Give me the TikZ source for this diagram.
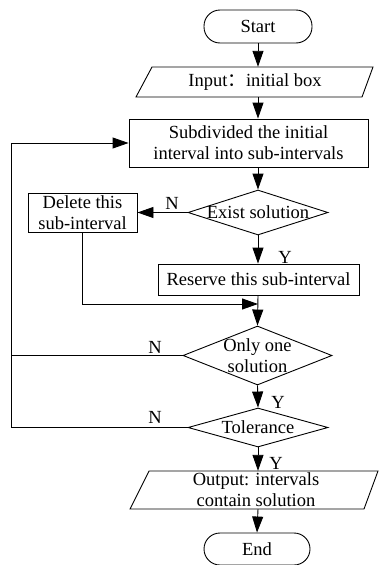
\documentclass[tikz,border=0pt]{standalone}
\usepackage{fontspec}
\setmainfont{Liberation Serif}
\newfontfamily\cjk{Noto Sans CJK SC}
\usetikzlibrary{shapes.geometric,arrows.meta}
\begin{document}
\begin{tikzpicture}[x=1pt,y=-1pt,
  every node/.style={font=\fontsize{18.5}{21}\selectfont, inner sep=0pt, align=center},
  line/.style={line width=0.9pt, line join=miter},
  arr/.style={line, -{Triangle[length=16pt,width=11pt]}},
  term/.style={draw, line width=0.9pt, rectangle, rounded corners=16pt},
  proc/.style={draw, line width=0.9pt, rectangle},
  dia/.style={draw, line width=0.9pt, diamond},
  io/.style={rectangle, draw=none},
  lbl/.style={font=\fontsize{18.5}{21}\selectfont}
]
\useasboundingbox (0,0) rectangle (380,565);
\coordinate (cx) at (258,0);
\coordinate (lx) at (11,0);

% nodes
\node[term, minimum width=108pt, minimum height=33pt] (start) at (258,26.5) {Start};
\node[io, minimum width=220pt, minimum height=30pt] (input) at (255,82) {Input{\cjk ：}initial box};
\draw[line] (136,97) -- (152,67) -- (373,67) -- (362,97) -- cycle;
\node[proc, minimum width=239pt, minimum height=48pt] (sub) at (248.5,143) {Subdivided the initial\\interval into sub-intervals};
\node[dia, minimum width=140pt, minimum height=45pt, label={center:Exist solution}] (exist) at (258,212.5) {};
\node[proc, minimum width=109pt, minimum height=39pt] (del) at (82.5,212.5) {Delete this\\sub-interval};
\node[proc, minimum width=201pt, minimum height=31pt] (res) at (258.5,279.5) {Reserve this sub-interval};
\node[dia, minimum width=149pt, minimum height=59pt, label={center:{Only one\\solution}}] (only) at (257.5,355.5) {};
\node[dia, minimum width=140pt, minimum height=39pt, label={center:Tolerance}] (tol) at (258,427.5) {};
\node[io, minimum width=230pt, minimum height=38pt] (out) at (256,490) {Output: intervals\\contain solution};
\draw[line] (130,509) -- (149,471) -- (378,471) -- (364,509) -- cycle;
\node[term, minimum width=106pt, minimum height=32pt] (end) at (257,549) {End};

\coordinate (merge) at (258,304);

% labels
\node[lbl] (n1) at (172,203) {N};
\node[lbl] (y1) at (285,257) {Y};
\node[lbl] (n2) at (155,347) {N};
\node[lbl] (y2) at (278,402) {Y};
\node[lbl] (n3) at (155,417) {N};
\node[lbl] (y3) at (276,463) {Y};

% connectors
\draw[arr] (start.south) -- (cx |- input.north);
\draw[arr] (cx |- input.south) -- (cx |- sub.north);
\draw[arr] (cx |- sub.south) -- (exist.north);
\draw[arr] (exist.west) -- (del.east);
\draw[arr] (exist.south) -- (exist.south |- res.north);
\draw[arr] (del.south) |- (merge);
\draw[arr] (exist.south |- res.south) -- (only.north);
\draw[arr] (only.south) -- (tol.north);
\draw[line] (only.west) -- (lx |- only.west);
\draw[arr] (tol.west) -- (lx |- tol.west) -- (lx |- sub.west) -- (sub.west);
\draw[arr] (tol.south) -- (cx |- out.north);
\draw[arr] (cx |- out.south) -- (end.north);
\end{tikzpicture}
\end{document}
